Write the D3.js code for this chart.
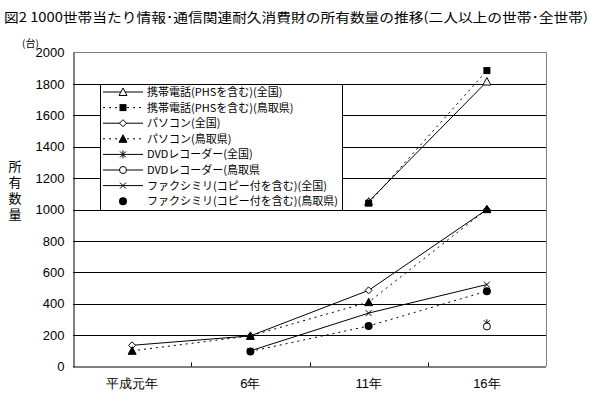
<!DOCTYPE html>
<html>
<head>
<meta charset="utf-8">
<script src="https://cdn.jsdelivr.net/npm/d3@7/dist/d3.min.js"></script>
<style>
  body { margin: 0; background: #fff; }
  svg { display: block; font-family: "Noto Sans CJK JP", "Noto Sans", sans-serif; }
</style>
</head>
<body>
<svg id="chart" width="594" height="398"></svg>
<script>
// Data (台 per 1000 households)
var categories = ['平成元年', '6年', '11年', '16年'];
var yTicks = [0, 200, 400, 600, 800, 1000, 1200, 1400, 1600, 1800, 2000];

var mobileAll = [null, null, 1050, 1815];
var mobileTottori = [null, null, 1040, 1885];
var pcAll = [135, 195, 485, 1000];
var pcTottori = [100, 195, 410, 1002];
var dvdAll = [null, null, null, 275];
var dvdTottori = [null, null, null, 255];
var faxAll = [null, 100, 340, 522];
var faxTottori = [null, 96, 258, 480];

var seriesNames = [
  '携帯電話(PHSを含む)(全国)',
  '携帯電話(PHSを含む)(鳥取県)',
  'パソコン(全国)',
  'パソコン(鳥取県)',
  'DVDレコーダー(全国)',
  'DVDレコーダー(鳥取県',
  'ファクシミリ(コピー付を含む)(全国)',
  'ファクシミリ(コピー付を含む)(鳥取県)'
];

var series = [
  {name: seriesNames[0], values: mobileAll, marker: 'triangle', dash: null, legendLine: true},
  {name: seriesNames[1], values: mobileTottori, marker: 'square', dash: '2,4', legendLine: true},
  {name: seriesNames[2], values: pcAll, marker: 'diamond', dash: null, legendLine: true},
  {name: seriesNames[3], values: pcTottori, marker: 'triangleFill', dash: '2,4', legendLine: true},
  {name: seriesNames[4], values: dvdAll, marker: 'asterisk', dash: null, legendLine: true},
  {name: seriesNames[5], values: dvdTottori, marker: 'circle', dash: null, legendLine: true},
  {name: seriesNames[6], values: faxAll, marker: 'x', dash: null, legendLine: true},
  {name: seriesNames[7], values: faxTottori, marker: 'dot', dash: '2,4', legendLine: false}
];

var svg = d3.select('#chart');
var plot = {left: 73, top: 52.5, right: 546, bottom: 366.5};

var x = d3.scaleBand()
  .domain(categories)
  .range([plot.left, plot.right]);

var y = d3.scaleLinear()
  .domain([0, 2000])
  .range([plot.bottom, plot.top]);

function px(d, i) { return x(categories[i]) + x.bandwidth() / 2; }

// Title
svg.append('text')
  .attr('x', 4)
  .attr('y', 22)
  .attr('font-size', 13)
  .attr('textLength', 584)
  .attr('lengthAdjust', 'spacingAndGlyphs')
  .text('図2 1000世帯当たり情報･通信関連耐久消費財の所有数量の推移(二人以上の世帯･全世帯)');

// Unit label and vertical axis title
svg.append('text')
  .attr('x', 22)
  .attr('y', 47)
  .attr('font-size', 10)
  .text('(台)');

// one vertical text so the glyphs stack without separate boxes
svg.append('text')
  .attr('x', 15)
  .attr('y', 160)
  .attr('font-size', 13)
  .attr('writing-mode', 'tb')
  .attr('letter-spacing', 3)
  .text('所有数量');

// Grid lines
svg.append('g')
  .selectAll('line')
  .data(yTicks.filter(function(v) { return v > 0 && v < 2000; }))
  .enter().append('line')
    .attr('x1', plot.left)
    .attr('x2', plot.right)
    .attr('y1', function(d) { return Math.round(y(d)) + 0.5; })
    .attr('y2', function(d) { return Math.round(y(d)) + 0.5; })
    .attr('stroke', '#000')
    .attr('stroke-width', 1);

// Plot frame: gray top/right, black left/bottom
svg.append('path')
  .attr('d', 'M' + plot.left + ',' + plot.top + 'H' + (plot.right + 0.5) + 'V' + plot.bottom)
  .attr('fill', 'none')
  .attr('stroke', '#808080');

// Y axis
var yAxis = d3.axisLeft(y)
  .tickValues(yTicks)
  .tickFormat(d3.format('d'))
  .tickSize(0)
  .tickPadding(9);

svg.append('g')
  .attr('transform', 'translate(' + (plot.left + 0.5) + ',0)')
  .call(yAxis)
  .call(function(g) {
    g.select('.domain').attr('stroke', '#000');
    g.selectAll('text')
      .attr('font-size', 13)
      .attr('fill', '#000')
      .attr('font-family', '"Liberation Sans", Arial, sans-serif');
  });

// X axis, ticks sit between categories
var xAxis = d3.axisBottom(x).tickSize(0).tickPadding(12);

svg.append('g')
  .attr('transform', 'translate(0,' + (plot.bottom + 0.5) + ')')
  .call(xAxis)
  .call(function(g) {
    g.select('.domain').attr('stroke', '#000').attr('d', 'M' + plot.left + ',0H' + plot.right);
    g.selectAll('text').attr('font-size', 13).attr('fill', '#000');
  });

svg.append('g')
  .selectAll('line')
  .data(categories.slice(1))
  .enter().append('line')
    .attr('x1', function(d) { return Math.round(x(d)) + 0.5; })
    .attr('x2', function(d) { return Math.round(x(d)) + 0.5; })
    .attr('y1', plot.bottom)
    .attr('y2', plot.bottom - 4)
    .attr('stroke', '#000');

// Marker drawing
function drawMarker(g, type, cx, cy) {
  var s = 3.5;
  if (type === 'triangle' || type === 'triangleFill') {
    g.append('path')
      .attr('d', 'M' + cx + ',' + (cy - s - 0.5) + 'L' + (cx + s + 0.5) + ',' + (cy + s) + 'L' + (cx - s - 0.5) + ',' + (cy + s) + 'Z')
      .attr('fill', type === 'triangle' ? '#fff' : '#000')
      .attr('stroke', '#000');
  }
  else if (type === 'square') {
    g.append('rect')
      .attr('x', cx - s).attr('y', cy - s)
      .attr('width', s * 2).attr('height', s * 2)
      .attr('fill', '#000');
  }
  else if (type === 'diamond') {
    g.append('path')
      .attr('d', 'M' + cx + ',' + (cy - s) + 'L' + (cx + s) + ',' + cy + 'L' + cx + ',' + (cy + s) + 'L' + (cx - s) + ',' + cy + 'Z')
      .attr('fill', '#fff')
      .attr('stroke', '#000');
  }
  else if (type === 'circle') {
    g.append('circle')
      .attr('cx', cx).attr('cy', cy).attr('r', s)
      .attr('fill', '#fff')
      .attr('stroke', '#000');
  }
  else if (type === 'dot') {
    g.append('circle')
      .attr('cx', cx).attr('cy', cy).attr('r', s + 0.5)
      .attr('fill', '#000');
  }
  else if (type === 'x' || type === 'asterisk') {
    var d = 'M' + (cx - 3) + ',' + (cy - 3) + 'L' + (cx + 3) + ',' + (cy + 3) +
      'M' + (cx + 3) + ',' + (cy - 3) + 'L' + (cx - 3) + ',' + (cy + 3);
    if (type === 'asterisk')
      d += 'M' + cx + ',' + (cy - 4) + 'L' + cx + ',' + (cy + 4);
    g.append('path').attr('d', d).attr('stroke', '#000').attr('fill', 'none');
  }
}

// Lines
var line = d3.line()
  .defined(function(d) { return d !== null; })
  .x(px)
  .y(function(d) { return y(d); });

var seriesG = svg.append('g');

series.forEach(function(s) {
  seriesG.append('path')
    .attr('d', line(s.values))
    .attr('fill', 'none')
    .attr('stroke', '#000')
    .attr('stroke-width', 1)
    .attr('stroke-dasharray', s.dash);
});

// Markers drawn after all lines
series.forEach(function(s) {
  s.values.forEach(function(v, i) {
    if (v === null)
      return;
    drawMarker(seriesG, s.marker, px(v, i), y(v));
  });
});

// Legend
var legend = svg.append('g');
legend.append('rect')
  .attr('x', 100.5)
  .attr('y', 84.5)
  .attr('width', 242)
  .attr('height', 126)
  .attr('fill', '#fff')
  .attr('stroke', '#000');

series.forEach(function(s, i) {
  var ly = 92 + i * 15.6;
  var row = legend.append('g');
  if (s.legendLine) {
    row.append('line')
      .attr('x1', 103).attr('x2', 143)
      .attr('y1', ly).attr('y2', ly)
      .attr('stroke', '#000')
      .attr('stroke-dasharray', s.dash);
  }
  drawMarker(row, s.marker, 123, ly);
  row.append('text')
    .attr('x', 147)
    .attr('y', ly + 4)
    .attr('font-size', 11)
    .text(s.name);
});
</script>
</body>
</html>
